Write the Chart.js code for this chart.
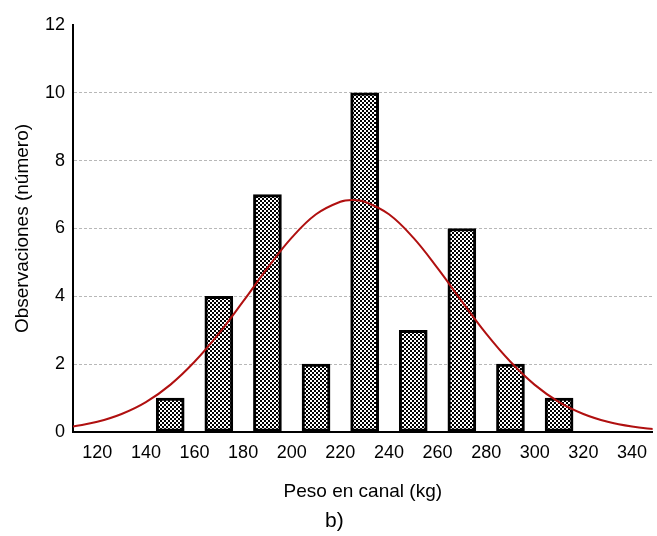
<!DOCTYPE html>
<html><head><meta charset="utf-8">
<script src="https://cdn.jsdelivr.net/npm/chart.js@4/dist/chart.umd.min.js"></script>
<style>
html,body{margin:0;padding:0;background:#fff;}
#wrap{position:relative;width:657px;height:536px;}
#sub{position:absolute;left:325px;top:508px;font:21px "Liberation Sans",Arial,sans-serif;color:#000;line-height:24px;}
</style></head><body>
<div id="wrap"><canvas id="c" width="657" height="536"></canvas><div id="sub">b)</div></div>
<script>
const binCenters = [150,170,190,210,230,250,270,290,310];
const observations = [1,4,7,2,10,3,6,2,1];
const curveX = [110,120,130,140,150,160,170,180,190,200,210,220,225,230,240,250,260,270,280,290,300,310,320,330,340,350];
const curveY = [0.16,0.30,0.53,0.88,1.39,2.07,2.90,3.85,4.83,5.73,6.42,6.79,6.84,6.79,6.42,5.73,4.83,3.85,2.90,2.07,1.39,0.88,0.53,0.30,0.16,0.08];
const yTicks = [0,2,4,6,8,10,12];
const xTicks = [120,140,160,180,200,220,240,260,280,300,320,340];

function checker(){
  const p=document.createElement('canvas');p.width=4;p.height=4;
  const g=p.getContext('2d');g.fillStyle='#fff';g.fillRect(0,0,4,4);
  g.fillStyle='#000';g.fillRect(0,0,2,2);g.fillRect(2,2,2,2);
  return document.getElementById('c').getContext('2d').createPattern(p,'repeat');
}
const fam = '"Liberation Sans", Arial, sans-serif';
const tickFont = {family:fam, size:18};
const titleFont = {family:fam, size:19};
new Chart(document.getElementById('c'), {
  data:{
    datasets:[
      {type:'line', order:0, data:curveX.map((x,i)=>({x, y:curveY[i]})), borderColor:'#b01010', borderWidth:2, pointRadius:0, tension:0.4, fill:false},
      {type:'bar', order:1, data:binCenters.map((x,i)=>({x, y:observations[i]})), backgroundColor:checker(), borderColor:'#000', borderWidth:3, barThickness:28, borderSkipped:false}
    ]
  },
  options:{
    responsive:false, animation:false,
    layout:{padding:{left:0,right:0,top:25,bottom:29}},
    plugins:{legend:{display:false}, tooltip:{enabled:false}},
    scales:{
      x:{type:'linear', min:110, max:348.5, offset:false,
        afterBuildTicks:s=>{s.ticks=xTicks.map(v=>({value:v}));},
        afterFit:s=>{s.height=75;},
        grid:{display:false, drawTicks:false},
        border:{display:true,color:'#000',width:2},
        ticks:{color:'#000', font:tickFont, padding:10, maxRotation:0, autoSkip:false},
        title:{display:true, text:'Peso en canal (kg)', color:'#000', font:titleFont, padding:{top:0,bottom:4}}
      },
      y:{min:0, max:12,
        afterBuildTicks:s=>{s.ticks=yTicks.map(v=>({value:v}));},
        afterFit:s=>{s.width=73;},
        grid:{drawTicks:false, color:c=>(c.tick && c.tick.value>0 && c.tick.value<12)?'#b8b8b8':'rgba(0,0,0,0)', lineWidth:1},
        border:{display:true,color:'#000',width:2,dash:[3,2]},
        ticks:{color:'#000', font:tickFont, padding:8},
        title:{display:true, text:'Observaciones (número)', color:'#000', font:titleFont, padding:{top:11,bottom:0}}
      }
    }
  }
});
</script></body></html>
